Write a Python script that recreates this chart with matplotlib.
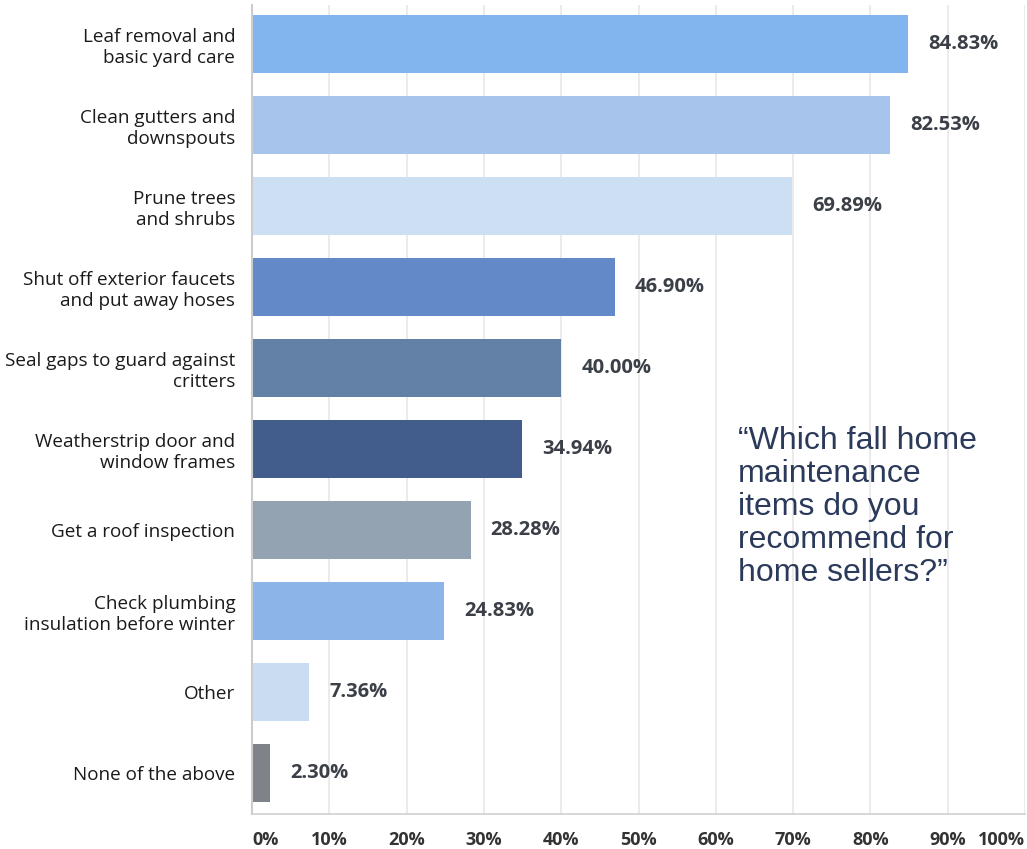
import matplotlib
matplotlib.use("Agg")
import matplotlib.pyplot as plt

categories = [
    "Leaf removal and\nbasic yard care",
    "Clean gutters and\ndownspouts",
    "Prune trees\nand shrubs",
    "Shut off exterior faucets\nand put away hoses",
    "Seal gaps to guard against\ncritters",
    "Weatherstrip door and\nwindow frames",
    "Get a roof inspection",
    "Check plumbing\ninsulation before winter",
    "Other",
    "None of the above",
]
values = [84.83, 82.53, 69.89, 46.90, 40.00, 34.94, 28.28, 24.83, 7.36, 2.30]
colors = ["#82b4ee", "#a7c5ec", "#cddff2", "#6389c8", "#6381a7",
          "#425c8b", "#94a3b1", "#8db4e8", "#c9dcf2", "#7e8389"]
xticks = [0, 10, 20, 30, 40, 50, 60, 70, 80, 90, 100]
xticklabels = [f"{t}%" for t in xticks]
question = "\u201cWhich fall home\nmaintenance\nitems do you\nrecommend for\nhome sellers?\u201d"

fig = plt.figure(figsize=(10.27, 8.49), dpi=100)
ax = fig.add_axes([252/1027, (849-814)/849, (1025-252)/1027, (814-5)/849])
ypos = list(range(len(categories)))
ax.barh(ypos, values, height=0.72, color=colors, zorder=2)
ax.set_ylim(9.506, -0.48)
ax.set_xlim(0, 100)

for y, v in zip(ypos, values):
    ax.annotate(f"{v:.2f}%", xy=(v, y), xytext=(14.5, 0), textcoords="offset points",
                ha="left", va="center", fontsize=14.5, fontweight="bold",
                family="Open Sans", color="#3b3f47")

ax.set_yticks(ypos)
ax.set_yticklabels(categories, fontsize=13.6, color="#1a1a1a", linespacing=1.2,
                   family="Open Sans")
ax.tick_params(axis="y", length=0, pad=12)
ax.set_xticks(xticks)
ax.set_xticklabels(xticklabels, fontsize=13, fontweight="bold", color="#333333",
                   family="Open Sans")
ax.tick_params(axis="x", length=0, pad=12)
labs = ax.get_xticklabels()
labs[0].set_ha("left")
labs[-1].set_ha("right")

ax.grid(axis="x", color="#e8e8e8", linewidth=1.2, zorder=0)
ax.set_axisbelow(True)
for s in ["top", "right"]:
    ax.spines[s].set_visible(False)
ax.spines["left"].set_color("#cccccc")
ax.spines["left"].set_linewidth(1.5)
ax.spines["bottom"].set_color("#d0d0d0")
ax.spines["bottom"].set_linewidth(1.2)

fig.text(738/1027, 1 - 426/849, question, ha="left", va="top", fontsize=23,
         family="Liberation Sans", color="#2b3a5a", linespacing=1.13)

fig.savefig("out.png", dpi=100, facecolor="white")
